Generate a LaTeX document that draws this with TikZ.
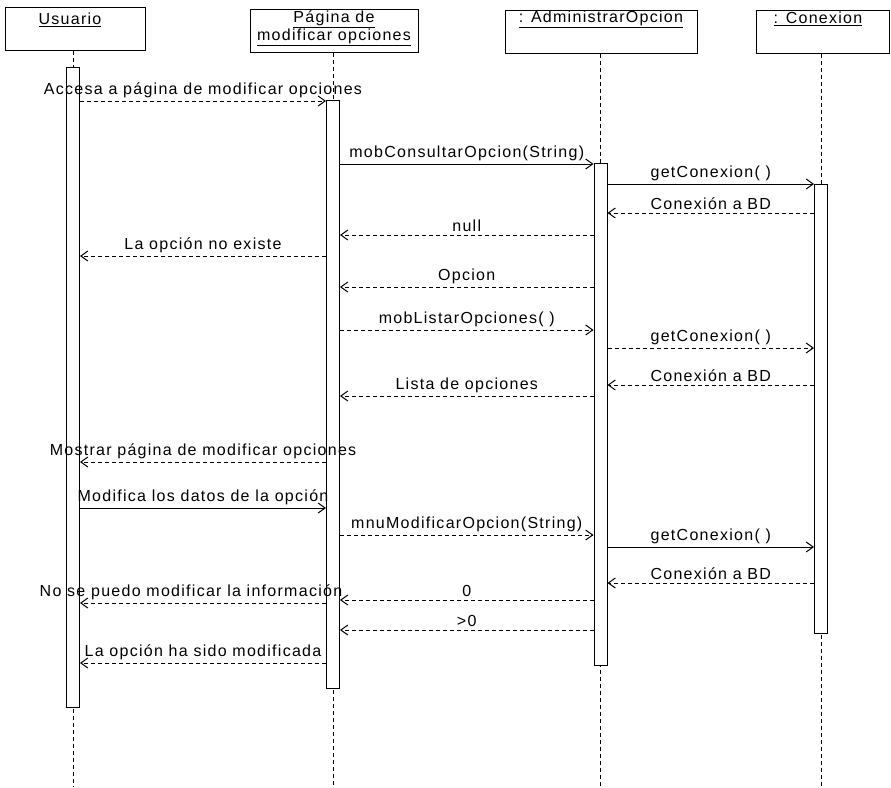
\documentclass[tikz,border=0pt]{standalone}
\usepackage{fontspec}
\setmainfont{Liberation Sans}[LetterSpace=8]
\usetikzlibrary{arrows.meta,calc}
\begin{document}
\begin{tikzpicture}[x=1pt,y=-1pt,
  every node/.style={font=\fontsize{16}{19}\selectfont, inner sep=0pt},
  objbox/.style={draw, line width=1pt, minimum height=43pt},
  objtxt/.style={anchor=center, align=center},
  bar/.style={draw, fill=white, line width=1pt, minimum width=13pt, anchor=north},
  life/.style={line width=1pt, dash pattern=on 4pt off 3pt},
  call/.style={line width=1pt, -{Straight Barb[length=7pt,width=10pt]}},
  ret/.style={call, dash pattern=on 4pt off 3pt},
  lbl/.style={above=3pt}
]
\useasboundingbox (0,0) rectangle (891,787);
% participant boxes
\node[objbox, minimum width=140pt] (usuario) at (75,28.5) {};
\node[objbox, minimum width=168pt] (pagina) at (334,31) {};
\node[objbox, minimum width=192pt] (admin) at (601,31.5) {};
\node[objbox, minimum width=133pt] (conexion) at (822.5,31.5) {};
\node[objtxt] (tusuario) at (70,20) {\underline{Usuario}};
\node[objtxt] (tpagina) at (334,28) {\underline{Página de}\\[-1pt]\underline{modificar opciones}};
\node[objtxt] (tadmin) at (601,19) {\underline{: AdministrarOpcion}};
\node[objtxt] (tconexion) at (818,19) {\underline{: Conexion}};
% lifeline ends
\coordinate (uend) at (73,787);
\coordinate (pend) at (333,787);
\coordinate (aend) at (600.5,787);
\coordinate (cend) at (821,787);
\draw[life] (usuario.south -| uend) -- (uend);
\draw[life] (pagina.south -| pend) -- (pend);
\draw[life] (admin.south -| aend) -- (aend);
\draw[life] (conexion.south -| cend) -- (cend);
% activation bars
\node[bar, minimum height=640pt] (ubar) at (73,67) {};
\node[bar, minimum height=588pt] (pbar) at (333,100) {};
\node[bar, minimum height=502pt] (abar) at (600.5,163) {};
\node[bar, minimum height=449pt] (cbar) at (821,184) {};
% messages
\draw[ret] (ubar.east |- 0,101) -- (pbar.west |- 0,101) node[midway,lbl] {Accesa a página de modificar opciones};
\draw[call] (pbar.east |- 0,164) -- (abar.west |- 0,164) node[midway,lbl] {mobConsultarOpcion(String)};
\draw[call] (abar.east |- 0,184) -- (cbar.west |- 0,184) node[midway,lbl] {getConexion( )};
\draw[ret] (cbar.west |- 0,213) -- (abar.east |- 0,213) node[midway,lbl] {Conexión a BD};
\draw[ret] (abar.west |- 0,235) -- (pbar.east |- 0,235) node[midway,lbl] {null};
\draw[ret] (pbar.west |- 0,256) -- (ubar.east |- 0,256) node[midway,lbl] {La opción no existe};
\draw[ret] (abar.west |- 0,287) -- (pbar.east |- 0,287) node[midway,lbl] {Opcion};
\draw[ret] (pbar.east |- 0,330) -- (abar.west |- 0,330) node[midway,lbl] {mobListarOpciones( )};
\draw[ret] (abar.east |- 0,348) -- (cbar.west |- 0,348) node[midway,lbl] {getConexion( )};
\draw[ret] (cbar.west |- 0,385) -- (abar.east |- 0,385) node[midway,lbl] {Conexión a BD};
\draw[ret] (abar.west |- 0,396) -- (pbar.east |- 0,396) node[midway,lbl] {Lista de opciones};
\draw[ret] (pbar.west |- 0,462) -- (ubar.east |- 0,462) node[midway,lbl] {Mostrar página de modificar opciones};
\draw[call] (ubar.east |- 0,508) -- (pbar.west |- 0,508) node[midway,lbl] {Modifica los datos de la opción};
\draw[ret] (pbar.east |- 0,535) -- (abar.west |- 0,535) node[midway,lbl] {mnuModificarOpcion(String)};
\draw[call] (abar.east |- 0,547) -- (cbar.west |- 0,547) node[midway,lbl] {getConexion( )};
\draw[ret] (cbar.west |- 0,583) -- (abar.east |- 0,583) node[midway,lbl] {Conexión a BD};
\draw[ret] (pbar.west |- 0,603) -- (ubar.east |- 0,603) node[midway,lbl,xshift=-12pt] {No se puedo modificar la información};
\draw[ret] (abar.west |- 0,600) -- (pbar.east |- 0,600) node[midway,lbl] {0};
\draw[ret] (abar.west |- 0,630) -- (pbar.east |- 0,630) node[midway,lbl] {>0};
\draw[ret] (pbar.west |- 0,663) -- (ubar.east |- 0,663) node[midway,lbl] {La opción ha sido modificada};
\end{tikzpicture}
\end{document}
